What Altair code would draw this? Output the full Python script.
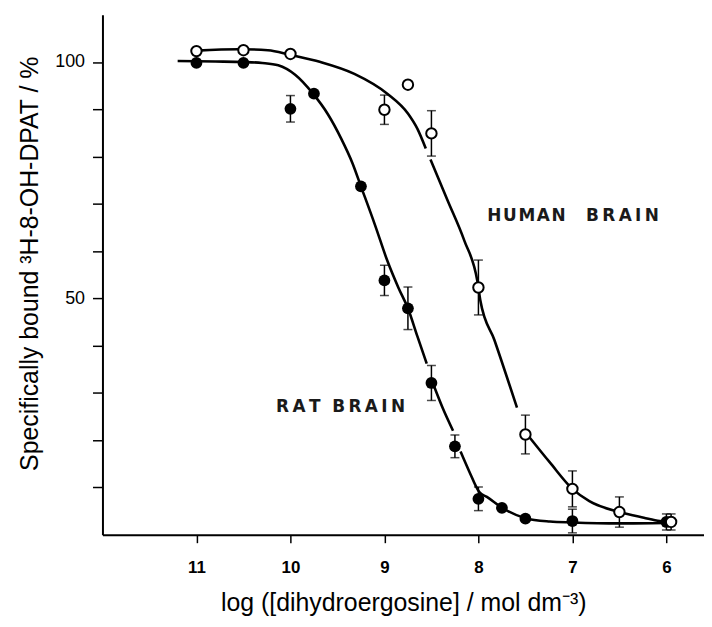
import altair as alt
import pandas as pd

# ---- measured points ----
rat_x = [11, 10.5, 10, 9.75, 9.25, 9.0, 8.75, 8.5, 8.25, 8.0, 7.75, 7.5, 7.0, 6.0]
rat_y = [99.8, 99.8, 90.1, 93.3, 73.7, 53.8, 47.9, 32.1, 18.7, 7.6, 5.7, 3.4, 2.9, 2.7]
rat_err = [0, 0, 2.8, 0, 0, 3.2, 4.5, 3.7, 2.4, 2.5, 0, 0, 2.5, 1.7]

human_x = [11, 10.5, 10, 9.0, 8.75, 8.5, 8.0, 7.5, 7.0, 6.5, 5.95]
human_y = [102.3, 102.5, 101.7, 89.9, 95.2, 84.9, 52.3, 21.2, 9.7, 4.8, 2.7]
human_err = [0, 0, 0, 3.1, 0, 4.8, 5.8, 4.1, 3.8, 3.2, 1.7]

# ---- fitted curves (segments broken at error bars) ----
rat_curve_x = [11.2, 10.8, 10.5, 10.3, 10.13, 9.95, 9.76, 9.6, 9.46, 9.34, 9.25, 9.1, 8.97, 8.85, 8.75, 8.65, 8.55,
               8.47, 8.38, 8.27,
               8.19, 8.1, 7.99, 7.91, 7.74, 7.5, 7.24, 7.0, 6.5, 6.0]
rat_curve_y = [100.2, 100.1, 100.0, 99.8, 99.3, 97.3, 93.3, 88.9, 83.8, 78.6, 73.7, 65.5, 58.0, 52.2, 47.9, 42.0, 36.2,
               31.3, 26.8, 22.0,
               17.6, 13.5, 9.0, 8.0, 5.6, 3.5, 2.8, 2.6, 2.4, 2.5]
rat_curve_seg = [1] * 17 + [2] * 3 + [3] * 10

human_curve_x = [11.0, 10.55, 10.24, 10.0, 9.68, 9.32, 8.97, 8.75, 8.65, 8.56,
                 8.51, 8.33, 8.15, 8.01, 7.98, 7.83, 7.59,
                 7.48, 7.24, 7.0, 6.82, 6.5, 6.24, 6.07, 5.95]
human_curve_y = [102.4, 102.7, 102.5, 101.5, 100.0, 97.5, 93.3, 89.1, 85.9, 81.7,
                 79.4, 70.8, 62.2, 53.5, 49.6, 41.2, 26.9,
                 21.2, 15.3, 9.7, 7.1, 4.8, 3.6, 2.9, 2.7]
human_curve_seg = [1] * 10 + [2] * 7 + [3] * 8

label_text = ["H\u200aU\u200aM\u200aA\u200aN\u2003\u2009B\u2009R\u2009A\u2009I\u2009N",
              "R\u2009A\u2009T\u2002\u2009B\u2009R\u2009A\u2009I\u2009N"]
label_x = [7.907, 10.153]
label_y = [67.4, 27.1]

x_ticks = [11, 10, 9, 8, 7, 6]
y_ticks = [10, 20, 30, 40, 50, 60, 70, 80, 90, 100]

# ---- tables ----
pts = pd.DataFrame({
    "x": rat_x + human_x,
    "y": rat_y + human_y,
    "err": rat_err + human_err,
    "series": ["rat"] * len(rat_x) + ["human"] * len(human_x),
})
pts["lo"] = pts["y"] - pts["err"]
pts["hi"] = pts["y"] + pts["err"]
errs = pts[pts["err"] > 0]

curves = pd.DataFrame({
    "x": rat_curve_x + human_curve_x,
    "y": rat_curve_y + human_curve_y,
    "seg": [f"r{s}" for s in rat_curve_seg] + [f"h{s}" for s in human_curve_seg],
    "ord": list(range(len(rat_curve_x))) + list(range(len(human_curve_x))),
})
labels = pd.DataFrame({"x": label_x, "y": label_y, "t": label_text})

xs = alt.Scale(domain=[12, 5.6], nice=False, zero=False)
ys = alt.Scale(domain=[0, 110], nice=False, zero=False)

X = alt.X("x:Q", scale=xs, axis=alt.Axis(
    values=x_ticks, format="d", title="log ([dihydroergosine] / mol dm\u207b\u00b3)",
    labelFont="Liberation Sans", labelFontWeight="bold", labelFontSize=17, labelPadding=17,
    titleFont="Liberation Sans", titleFontSize=25, titleFontWeight="normal", titlePadding=15,
    tickSize=8))
Y = alt.Y("y:Q", scale=ys, axis=alt.Axis(
    values=y_ticks, labelExpr="datum.value % 50 == 0 ? datum.label : ''",
    title="Specifically bound  \u00b3H-8-OH-DPAT / %",
    labelFont="Liberation Sans", labelFontSize=18, labelPadding=8,
    titleFont="Liberation Sans", titleFontSize=25, titleFontWeight="normal", titlePadding=12,
    titleY=250, tickSize=10))

lines = alt.Chart(curves).mark_line(color="black", strokeWidth=2.6, interpolate="monotone").encode(
    x=X, y=Y, detail="seg:N", order="ord:Q")

rules = alt.Chart(errs).mark_rule(color="black", strokeWidth=1.5).encode(
    x="x:Q", y="lo:Q", y2="hi:Q")
cap_lo = alt.Chart(errs).mark_tick(color="black", orient="horizontal", size=9, thickness=1.5).encode(
    x="x:Q", y="lo:Q")
cap_hi = alt.Chart(errs).mark_tick(color="black", orient="horizontal", size=9, thickness=1.5).encode(
    x="x:Q", y="hi:Q")

filled = alt.Chart(pts[pts["series"] == "rat"]).mark_circle(
    color="black", opacity=1, size=140).encode(x="x:Q", y="y:Q")
opened = alt.Chart(pts[pts["series"] == "human"]).mark_point(
    shape="circle", filled=True, fill="white", stroke="black", strokeWidth=2, opacity=1,
    fillOpacity=1, size=110).encode(x="x:Q", y="y:Q")

texts = alt.Chart(labels).mark_text(
    align="left", baseline="middle", font="DejaVu Sans", fontSize=17, fontWeight=600,
    color="#1a1a1a").encode(x="x:Q", y="y:Q", text="t:N")

chart = alt.layer(lines, rules, cap_lo, cap_hi, filled, opened, texts).properties(
    width=605, height=523,
    padding={"left": 95, "top": 5, "right": 0, "bottom": 85},
    autosize=alt.AutoSizeParams(type="none"),
).configure_view(stroke=None).configure_axis(
    grid=False, domainColor="black", domainWidth=2, tickColor="black", tickWidth=1.5,
    labelColor="black", titleColor="black")

chart.save("out.html", embed_options={"renderer": "svg", "actions": False})
